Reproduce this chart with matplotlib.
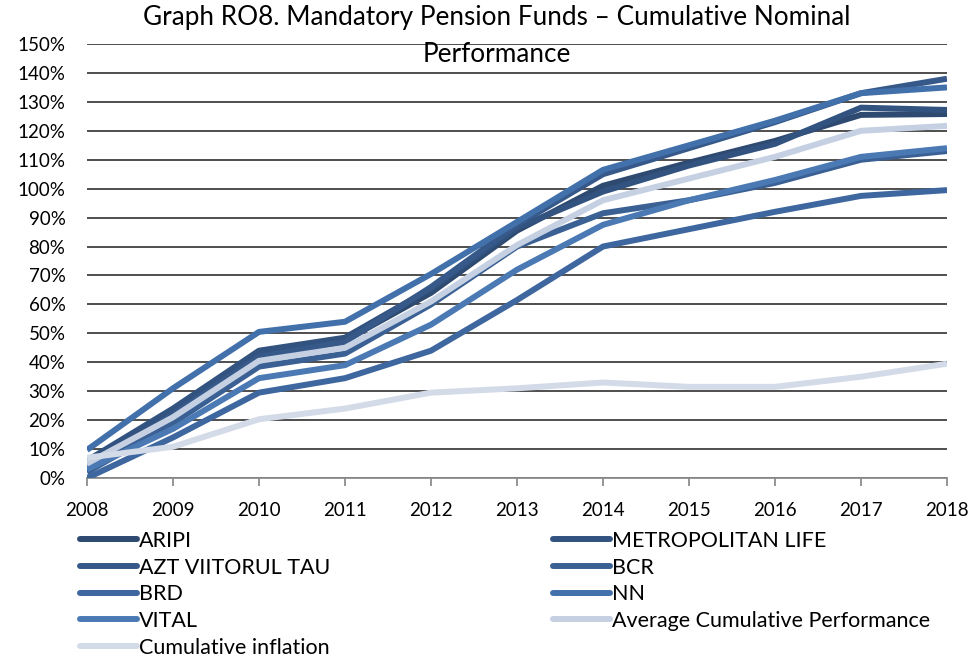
import numpy as np
import matplotlib
matplotlib.use('Agg')
import matplotlib.pyplot as plt
from matplotlib.lines import Line2D

plt.rcParams['font.family'] = ['Lato', 'DejaVu Sans']

# data (cumulative nominal performance, %)
years = [2008, 2009, 2010, 2011, 2012, 2013, 2014, 2015, 2016, 2017, 2018]
aripi = [5, 23, 43, 47.5, 64, 85.5, 101, 109, 116.5, 125.5, 125.8]
metropolitan = [6, 24, 44, 48.5, 65.5, 86.5, 99, 108, 115.5, 128, 127.2]
azt = [3, 22, 42, 47, 66, 87.5, 105, 114, 123, 133, 138]
bcr = [2, 19, 38.5, 43, 60, 80, 91.5, 96, 102, 110, 113]
brd = [0, 14, 29.5, 34.5, 44, 61.5, 80, 86, 92, 97.5, 99.5]
nn = [9.7, 31, 50.5, 54, 70.5, 88.5, 106.5, 115, 123.5, 133, 135]
vital = [3, 17, 34.5, 39, 53, 72, 87.5, 96, 103, 111, 114]
average = [5, 21, 40.5, 45, 61, 80.5, 96, 103.5, 111, 120, 121.7]
inflation = [7, 10.8, 20.3, 24, 29.5, 31, 33, 31.5, 31.5, 35, 39.5]

names = ['ARIPI', 'METROPOLITAN LIFE', 'AZT VIITORUL TAU', 'BCR', 'BRD', 'NN', 'VITAL',
         'Average Cumulative Performance', 'Cumulative inflation']
series = [aripi, metropolitan, azt, bcr, brd, nn, vital, average, inflation]
colors = ['#2e4a70', '#32537f', '#36598a', '#3a6094', '#3e679f', '#4270aa', '#4a79b4',
          '#c5d0e3', '#d3dae8']

fig = plt.figure(figsize=(9.76, 6.6), dpi=100)
ax = fig.add_axes([87/976, 1 - 478/660, 860/976, 434/660])

lw = 4.3
handles = []
for name, vals, col in zip(names, series, colors):
    ax.plot(years, vals, color=col, lw=lw, solid_joinstyle='round', solid_capstyle='butt',
            zorder=3)
    handles.append(Line2D([], [], color=col, lw=lw, solid_capstyle='round', label=name))

ax.set_xlim(2008, 2018)
ax.set_ylim(0, 150)
ax.set_xticks(years)
ax.set_yticks(np.arange(0, 151, 10))
ax.set_yticklabels([f'{v}%' for v in range(0, 151, 10)])
ax.yaxis.grid(True, color='#404040', lw=1.3)
ax.set_axisbelow(True)
for s in ['left', 'right', 'top']:
    ax.spines[s].set_visible(False)
ax.spines['bottom'].set_color('#8c8c8c')
ax.spines['bottom'].set_linewidth(1.3)
ax.tick_params(axis='y', length=0, pad=15.5, labelsize=13.5, colors='#000000')
ax.tick_params(axis='x', length=6, width=1.3, color='#8c8c8c', pad=11.5, labelsize=13.5)

fig.text(497/976, 1 - 36/660, 'Graph RO8. Mandatory Pension Funds \u2013 Cumulative Nominal\nPerformance',
         ha='center', va='center', fontsize=18.8, linespacing=1.55)

# legend in two columns, row-major like the original
left = [handles[i] for i in (0, 2, 4, 6, 8)]
right = [handles[i] for i in (1, 3, 5, 7)]
leg_kw = dict(frameon=False, fontsize=15.5, handlelength=2.65, handletextpad=0.1,
              labelspacing=0.31, borderaxespad=0, borderpad=0)
fig.legend(handles=left, loc='upper left', bbox_to_anchor=(80/976, 1 - 531/660), **leg_kw)
fig.legend(handles=right, loc='upper left', bbox_to_anchor=(553/976, 1 - 531/660), **leg_kw)

fig.savefig('out.png', dpi=100)
